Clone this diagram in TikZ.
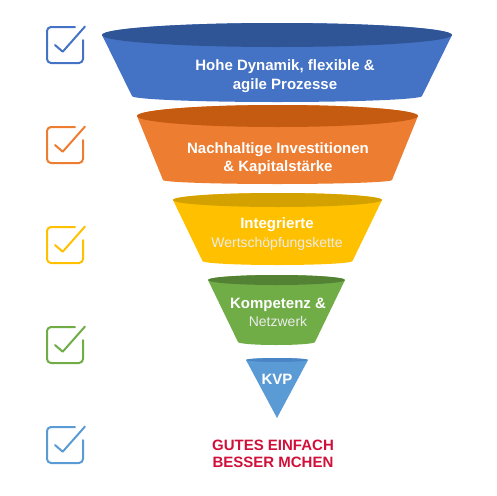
\documentclass[tikz,border=0pt]{standalone}
\usepackage{fontspec}
\setmainfont{Liberation Sans}
\definecolor{cblue}{HTML}{4472C4}
\definecolor{cbluetop}{HTML}{2F5597}
\definecolor{corange}{HTML}{ED7D31}
\definecolor{corangetop}{HTML}{C55A11}
\definecolor{cyellow}{HTML}{FFC000}
\definecolor{cyellowtop}{HTML}{D4A200}
\definecolor{cgreen}{HTML}{70AD47}
\definecolor{cgreentop}{HTML}{548235}
\definecolor{clblue}{HTML}{5B9BD5}
\definecolor{clbluetop}{HTML}{4A86C5}
\definecolor{ccrimson}{HTML}{D0103A}
\newcommand{\lightline}[1]{{\fontsize{14}{18.5}\selectfont\mdseries\color{white!92!black}#1}}
\begin{document}
\begin{tikzpicture}[x=1pt,y=1pt,
  lbl/.style={text=white,font=\fontsize{15}{18.5}\selectfont\bfseries,align=center,inner sep=0pt},
  chk/.style={line width=2pt,rounded corners=4pt,line cap=round,line join=round},
  tick/.style={line width=2pt,line cap=round,line join=round}]
\useasboundingbox (0,0) rectangle (496,-496);
\newcommand{\funnellayer}[9]{%
  \fill[#8] (#1-#3,-#2) -- (#1-#6,-#5) arc[start angle=180,end angle=360,x radius=#6,y radius=#7]
     -- (#1+#3,-#2) arc[start angle=0,end angle=180,x radius=#3,y radius=#4] -- cycle;
  \fill[#9] (#1,-#2) ellipse[x radius=#3,y radius=#4];}
\funnellayer{277}{35}{175}{12}{96}{145}{6}{cblue}{cbluetop}
\funnellayer{277.5}{116}{140.5}{11}{180}{114.5}{4}{corange}{corangetop}
\funnellayer{277.5}{200}{104.5}{7}{261}{75}{4}{cyellow}{cyellowtop}
\funnellayer{276.5}{280}{68.5}{5}{342}{38.5}{3}{cgreen}{cgreentop}
\fill[clblue] (246,-360) -- (277,-418) -- (308,-360) arc[start angle=0,end angle=180,x radius=31,y radius=2] -- cycle;
\fill[clbluetop] (277,-360) ellipse[x radius=31,y radius=2];
% labels
\node[lbl] (t1) at (285,-76) {Hohe Dynamik, flexible \&\\agile Prozesse};
\node[lbl] (t2) at (278,-158.5) {Nachhaltige Investitionen\\\& Kapitalstärke};
\node[lbl] (t3) at (277,-234) {Integrierte\\\lightline{Wertschöpfungskette}};
\node[lbl] (t4) at (278,-312.5) {Kompetenz \&\\\lightline{Netzwerk}};
\node[lbl] (t5) at (277,-379) {KVP};
\node[lbl,text=ccrimson,font=\fontsize{15}{16.5}\selectfont\bfseries] (t6) at (273,-454) {GUTES EINFACH\\BESSER MCHEN};
% checkboxes
\foreach \y/\c [count=\i] in {45/cblue,145/corange,245/cyellow,345/cgreen,445/clblue}{
  \draw[chk,\c] (75,-\y+18) -- (47,-\y+18) -- (47,-\y-18) -- (83,-\y-18) -- (83,-\y+5);
  \draw[tick,\c] (55,-\y) -- (62.7,-\y-6.7) -- (85,-\y+18.5);
  \coordinate (cb\i) at (65,-\y);
}
\end{tikzpicture}
\end{document}
